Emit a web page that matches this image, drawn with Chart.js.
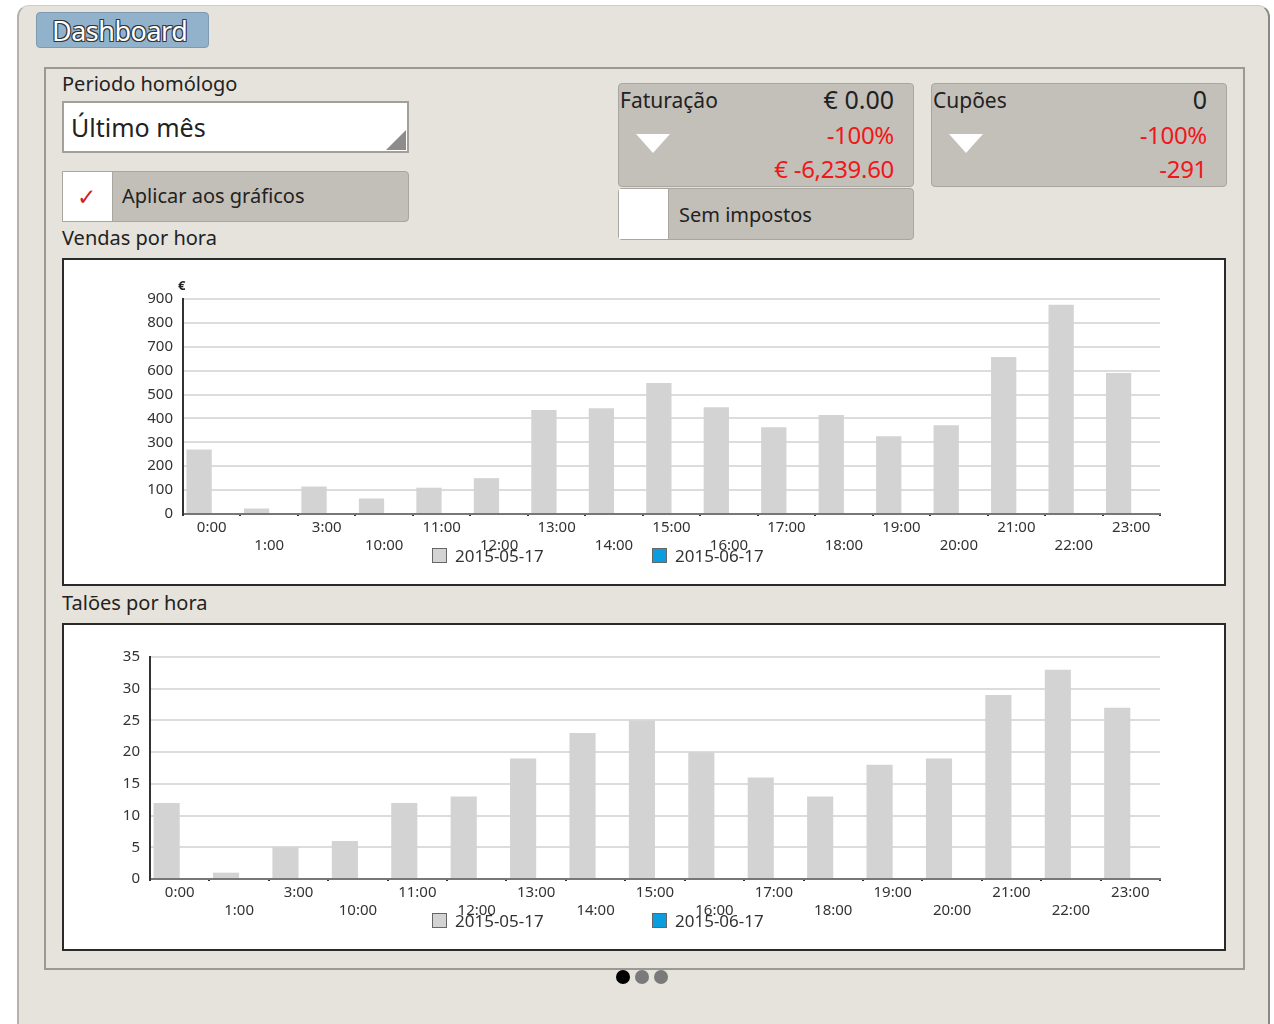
<!DOCTYPE html>
<html>
<head>
<meta charset="utf-8">
<script src="https://cdn.jsdelivr.net/npm/chart.js@4/dist/chart.umd.min.js"></script>
<style>
  html, body { margin: 0; padding: 0; background: #fff; }
  body { width: 1274px; height: 1024px; position: relative; overflow: hidden; font-family: 'Noto Sans', 'DejaVu Sans', sans-serif; color: #222; }
  .abs { position: absolute; }
  #panel { left: 17px; top: 5px; width: 1249px; height: 1030px; background: #e6e2dc; border-left: 2px solid #b5b2ad; border-right: 2px solid #8a8884; border-top: 1px solid #d0ccc6; border-radius: 12px 12px 0 0; }
  #tab { left: 36px; top: 12px; width: 171px; height: 34px; background: #92b2cb; border: 1px solid #7e9ab1; border-radius: 4px; }
  #tab span { position: absolute; left: 15px; top: -1px; font-size: 27px; color: #fff; letter-spacing: -0.5px;
    text-shadow: -1px -1px 0 #333, 1px -1px 0 #333, -1px 1px 0 #333, 1px 1px 0 #333; }
  #frame { left: 44px; top: 67px; width: 1197px; height: 899px; border: 2px solid #9c9995; }
  .lbl { font-size: 20px; color: #222; line-height: 24px; }
  #spinner { left: 62px; top: 101px; width: 343px; height: 48px; background: #fff; border: 2px solid #a3a09b; }
  #spinner span { position: absolute; left: 7px; top: 7px; font-size: 25px; color: #222; }
  #spinner i { position: absolute; right: 1px; bottom: 1px; width: 0; height: 0; border-left: 20px solid transparent; border-bottom: 20px solid #8e8c88; }
  .chk { background: #c2bfb8; border: 1px solid #a9a6a0; border-radius: 0 4px 4px 0; }
  .chk .box { position: absolute; left: 0; top: 0; width: 49px; height: 100%; background: #fff; border-right: 1px solid #a9a6a0; }
  .chk .txt { position: absolute; font-size: 20px; color: #222; }
  .kpi { background: #c3c0b9; border: 1px solid #a9a6a0; border-radius: 4px; }
  .kpi div { position: absolute; font-size: 22px; line-height: 26px; }
  .kpi .r { right: 19px; color: #f0171a; font-size: 24px; letter-spacing: -0.3px; }
  .kpi .tri { left: 17px; top: 50px; width: 0; height: 0; border-left: 17px solid transparent; border-right: 17px solid transparent; border-top: 19px solid #fff; }
  .box-chart { background: #fff; border: 2px solid #2a2a2a; }
  .legend { position: absolute; font-size: 17px; color: #333; white-space: nowrap; }
  .legend b { display: inline-block; width: 13px; height: 13px; border: 1px solid #666; vertical-align: -1px; margin-right: 8px; }
  .dot { width: 14px; height: 14px; border-radius: 50%; top: 970px; }
</style>
</head>
<body>
<div id="panel" class="abs"></div>
<div id="tab" class="abs"><span>Dashboard</span></div>
<div id="frame" class="abs"></div>

<div class="abs lbl" style="left:62px;top:72px;">Periodo homólogo</div>
<div id="spinner" class="abs"><span>Último mês</span><i></i></div>
<div class="abs chk" style="left:62px;top:171px;width:345px;height:49px;">
  <div class="box"><span style="position:absolute;left:14px;top:8px;color:#d0202a;font-size:23px;font-weight:bold;">✓</span></div>
  <div class="txt" style="left:59px;top:10px;">Aplicar aos gráficos</div>
</div>
<div class="abs lbl" style="left:62px;top:226px;">Vendas por hora</div>

<div class="abs kpi" style="left:618px;top:83px;width:294px;height:102px;">
  <div style="left:1px;top:3px;font-size:21px;">Faturação</div>
  <div style="right:19px;top:2px;font-size:25px;color:#222;">€ 0.00</div>
  <span class="tri abs"></span>
  <div class="r" style="top:38px;">-100%</div>
  <div class="r" style="top:72px;">€ -6,239.60</div>
</div>
<div class="abs chk" style="left:618px;top:188px;width:294px;height:50px;border-radius:4px;">
  <div class="box"></div>
  <div class="txt" style="left:60px;top:12px;">Sem impostos</div>
</div>
<div class="abs kpi" style="left:931px;top:83px;width:294px;height:102px;">
  <div style="left:1px;top:3px;font-size:21px;">Cupões</div>
  <div style="right:19px;top:2px;font-size:25px;color:#222;">0</div>
  <span class="tri abs"></span>
  <div class="r" style="top:38px;">-100%</div>
  <div class="r" style="top:72px;">-291</div>
</div>

<div class="abs box-chart" style="left:62px;top:258px;width:1160px;height:324px;">
  <canvas id="c1" width="1160" height="324"></canvas>
  <div class="abs" style="left:114px;top:16px;font-size:13px;font-weight:bold;color:#222;">€</div>
  <div class="legend" style="left:368px;top:284px;"><b style="background:#d3d3d3;"></b>2015-05-17</div>
  <div class="legend" style="left:588px;top:284px;"><b style="background:#0a9ee0;"></b>2015-06-17</div>
</div>

<div class="abs lbl" style="left:62px;top:591px;">Talões por hora</div>

<div class="abs box-chart" style="left:62px;top:623px;width:1160px;height:324px;">
  <canvas id="c2" width="1160" height="324"></canvas>
  <div class="legend" style="left:368px;top:284px;"><b style="background:#d3d3d3;"></b>2015-05-17</div>
  <div class="legend" style="left:588px;top:284px;"><b style="background:#0a9ee0;"></b>2015-06-17</div>
</div>

<div class="abs dot" style="left:616px;background:#000;"></div>
<div class="abs dot" style="left:635px;background:#7a7a7a;"></div>
<div class="abs dot" style="left:654px;background:#7a7a7a;"></div>

<script>
const hours = ['0:00', '1:00', '3:00', '10:00', '11:00', '12:00', '13:00', '14:00', '15:00',
  '16:00', '17:00', '18:00', '19:00', '20:00', '21:00', '22:00', '23:00'];
const seriesNames = ['2015-05-17', '2015-06-17'];

// vendas (€) por hora
const salesPrev = [270, 23, 115, 65, 110, 150, 435, 443, 548, 447, 363, 414, 325, 372, 657, 876, 590];
const salesCur = [0, 0, 0, 0, 0, 0, 0, 0, 0, 0, 0, 0, 0, 0, 0, 0, 0];
const salesTicks = { max: 900, step: 100 };

// talões por hora
const ticketsPrev = [12, 1, 5, 6, 12, 13, 19, 23, 25, 20, 16, 13, 18, 19, 29, 33, 27];
const ticketsCur = [0, 0, 0, 0, 0, 0, 0, 0, 0, 0, 0, 0, 0, 0, 0, 0, 0];
const ticketTicks = { max: 35, step: 5 };

const font = { family: "'Noto Sans', 'DejaVu Sans', sans-serif", size: 15 };

function hourChart(ctx, prev, cur, ticks, yWidth, padTop) {
    return new Chart(ctx, {
        type: 'bar',
        data: {
            labels: hours,
            datasets: [
                { label: seriesNames[0], data: prev, backgroundColor: '#d3d3d3', borderWidth: 0,
                  categoryPercentage: 0.88, barPercentage: 1 },
                { label: seriesNames[1], data: cur, backgroundColor: '#0a9ee0', borderColor: '#555',
                  borderWidth: { top: 0, left: 0, right: 0, bottom: 2 }, borderSkipped: false,
                  categoryPercentage: 0.88, barPercentage: 1 }
            ]
        },
        options: {
            responsive: false,
            animation: false,
            layout: { padding: { top: padTop, right: 64, left: 0, bottom: 0 } },
            plugins: { legend: { display: false }, tooltip: { enabled: false } },
            scales: {
                x: {
                    grid: { display: true, drawOnChartArea: false, offset: true, tickLength: 2, color: '#333', lineWidth: 2 },
                    border: { color: '#777', width: 2 },
                    ticks: {
                        color: '#333', font, autoSkip: false, maxRotation: 0, padding: 3,
                        callback: (v, i) => i % 2 ? ['', hours[i]] : [hours[i]]
                    },
                    afterFit: s => { s.height = 70; }
                },
                y: {
                    min: 0, max: ticks.max,
                    grid: { color: '#dcdcdc', lineWidth: 2, drawTicks: false },
                    border: { color: '#333', width: 2 },
                    ticks: { stepSize: ticks.step, color: '#333', font, padding: 10 },
                    afterFit: s => { s.width = yWidth; }
                }
            }
        }
    });
}

hourChart(document.getElementById('c1'), salesPrev, salesCur, salesTicks, 119, 39);
hourChart(document.getElementById('c2'), ticketsPrev, ticketsCur, ticketTicks, 86, 32);
</script>
</body>
</html>
